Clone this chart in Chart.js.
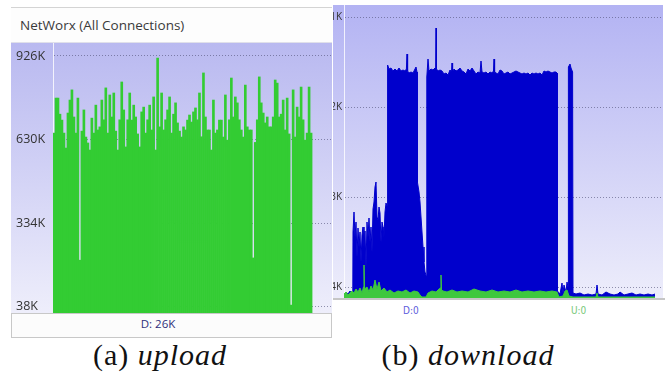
<!DOCTYPE html>
<html>
<head>
<meta charset="utf-8">
<script src="https://cdn.jsdelivr.net/npm/chart.js@4"></script>
<style>
  body { margin: 0; width: 668px; height: 376px; background: #fff; position: relative; overflow: hidden; font-family: "Open Sans", sans-serif; }
  .abs { position: absolute; box-sizing: border-box; }
  #titleA { left: 11px; top: 7px; width: 321px; height: 36px; background: #fdfdfd; border-top: 1px solid #d4d4d4; border-bottom: 1px solid #e0e0ea; font-size: 13.5px; color: #3a3a3a; line-height: 34px; padding-left: 9px; }
  #bgA { left: 11px; top: 43px; width: 321px; height: 270px; background: linear-gradient(#b9b9f0, #d0d0f5 45%, #eeeefb); }
  #statusA { left: 11px; top: 313px; width: 321px; height: 25px; background: #fcfcfc; border: 1px solid #c8c8c8; }
  #statusText { left: 11px; top: 316px; width: 294px; text-align: center; font-size: 11.5px; color: #2e2e7a; }
  #bgB { left: 333px; top: 5px; width: 330px; height: 293px; background: linear-gradient(#b3b3f3, #cdcdf6 45%, #ededfb); }
  #lineB { left: 333px; top: 298px; width: 332px; height: 2px; background: #c6c6c6; }
  .leg { top: 305px; font-family: "DejaVu Sans Condensed", "DejaVu Sans", sans-serif; font-size: 10px; }
  .cap { top: 338px; font-family: "Liberation Serif", serif; font-size: 30px; letter-spacing: 1px; color: #111; white-space: nowrap; text-align: center; }
  .cap i { font-style: italic; }
  canvas { position: absolute; }
</style>
</head>
<body>
<div class="abs" id="titleA">NetWorx (All Connections)</div>
<div class="abs" id="bgA"></div>
<canvas id="chartA" width="321" height="270" style="left:11px;top:43px"></canvas>
<div class="abs" id="statusA"></div>
<div class="abs" id="statusText">D: 26K</div>

<div class="abs" id="bgB"></div>
<canvas id="chartB" width="330" height="293" style="left:333px;top:5px"></canvas>
<div class="abs" id="lineB"></div>
<div class="abs leg" style="left:403px;color:#5b5bdc">D:0</div>
<div class="abs leg" style="left:571px;color:#77c877">U:0</div>

<div class="abs cap" style="left:60px;width:200px">(a) <i>upload</i></div>
<div class="abs cap" style="left:368px;width:200px">(b) <i>download</i></div>

<script>
// (a) upload panel, values in K
const aTickValues = [926, 630, 334, 38];
const aTickLabels = ['926K', '630K', '334K', '38K'];
const aUpload = [
  653, 777, 777, 720, 699, 653, 600, 724, 770, 806, 710, 653, 777, 203, 660, 735, 639, 618, 593, 706,
  653, 752, 664, 675, 770, 700, 813, 653, 788, 710, 795, 660, 593, 700, 834, 735, 604, 700, 795, 699,
  752, 710, 650, 604, 728, 745, 653, 700, 752, 664, 781, 593, 919, 675, 795, 664, 700, 735, 781, 653,
  720, 760, 689, 660, 639, 675, 664, 699, 717, 692, 728, 742, 700, 795, 640, 866, 710, 664, 664, 593,
  770, 653, 664, 699, 699, 639, 788, 628, 700, 848, 710, 781, 760, 700, 664, 639, 823, 675, 664, 664,
  211, 620, 700, 852, 760, 724, 689, 710, 675, 675, 710, 841, 830, 710, 720, 770, 664, 777, 650, 44,
  806, 639, 745, 710, 816, 700, 628, 653, 816, 653
];
const aSlots = 140;

// (b) download panel: [time sample, value in K]
const bTickValues = [31, 22, 13, 4];
const bTickLabels = ['31K', '22K', '13K', '4K'];
const bDownload = [
  [0,3.2],[2,3.5],[4,3.3],[6,3.6],[8,3.3],[8.8,3.4],
  [9,9.5],[10,11.5],[11,9.0],[12,10.5],[13,7.0],[14,9.9],[15,8.0],[16,9.5],[17,6.5],[18,9.2],[19,10.0],[20,8.0],
  [21,9.6],[22,6.0],[23,10.5],[24,9.0],[25,10.9],[26,8.5],[27,10.0],[28,7.5],[29,11.8],[30,12.5],[31,14.0],
  [32,14.5],[33,11.0],[34,10.7],[35,12.0],[36,11.4],[37,8.5],[38,10.5],[39,10.0],[40,9.0],[41,11.5],[42,12.4],[43.4,12.0],
  [43.6,26.2],[45,25.8],[47,25.9],[49,25.6],[51,25.8],[53,25.6],[55,25.9],[57,25.6],[59,25.7],[61,25.6],
  [62.4,25.8],[63,27.3],[63.6,25.6],[65,25.4],[67,25.5],[69,25.4],[71,25.8],[72,26.0],[73,25.5],
  [73.4,14.5],[75,13.5],[76,12.5],[77,11.0],[78,9.5],[79,8.0],[80,6.5],[81,5.5],[82.6,5.0],
  [82.8,25.0],[84,26.8],[85,25.6],[87,25.8],[89,25.7],[91,25.9],[91.6,25.6],[92,29.9],[92.5,25.8],[94,25.6],
  [96,25.7],[98,25.6],[100,25.3],[102,25.4],[104,25.2],[106,25.7],[107.5,25.5],[108,26.4],[108.6,25.5],[110,25.8],
  [112,25.6],[114,25.7],[116,25.9],[118,25.6],[120,25.5],[122,25.3],[124,25.8],[126,25.6],[128,25.9],[130,25.6],
  [132,25.3],[134,25.5],[136,25.4],[137,26.6],[138,25.5],[140,25.4],[142,25.5],[144,25.3],[146,25.5],[148,25.4],
  [149.5,25.6],[150,26.8],[150.6,25.5],[152,25.4],[154,25.3],[156,25.7],[158,25.6],[160,25.3],[162,25.4],[164,25.5],
  [166,25.3],[168,25.4],[170,25.5],[172,25.6],[174,25.5],[176,25.4],[178,25.3],[180,25.4],[182,25.3],[184,25.4],
  [186,25.2],[188,25.4],[190,25.3],[192,25.4],[194,25.3],[196,25.4],[198,25.2],[200,25.6],[202,25.5],[204,25.6],
  [206,25.5],[208,25.4],[210,25.5],[212,25.5],[213,25.4],
  [213.4,3.6],[216,3.3],[218,4.4],[219,3.4],[220,4.2],[222,3.5],[223,4.5],[224,4.0],
  [224.4,26.0],[226,26.3],[227,25.9],[228.6,25.5],
  [229,3.4],[232,3.3],[236,3.4],[240,3.2],[244,3.3],[248,3.2],[252,3.3],[253,4.2],[254,3.3],[258,3.2],
  [262,3.5],[266,3.3],[270,3.2],[274,3.3],[276,3.5],[280,3.2],[284,3.3],[288,3.4],[292,3.2],[296,3.3],
  [300,3.2],[304,3.3],[308,3.2],[311,3.3]
];
const bUpload = [
  [0,3.3],[2,3.5],[4,3.2],[6,3.4],[8,3.6],[10,3.4],[12,3.8],[14,3.5],[16,3.9],[18,3.4],[19.5,4.0],[20,6.2],
  [20.5,3.8],[23,4.0],[25,3.5],[27,4.1],[29,3.7],[31,4.7],[33,3.8],[35,4.5],[37,3.6],[40,3.9],[43,3.5],[46,3.7],
  [50,3.4],[54,3.6],[58,3.5],[62,3.7],[66,3.4],[70,3.6],[74,3.5],[76,3.2],[78,3.0],[82,3.0],[84,3.4],[88,3.6],
  [92,3.5],[95,3.8],[96.5,3.9],[97,5.2],[97.5,3.7],[99,3.6],[103,3.5],[108,3.7],[113,3.5],[118,3.6],[124,3.5],
  [130,3.8],[136,3.6],[142,3.5],[148,3.7],[154,3.5],[160,3.6],[166,3.5],[172,3.7],[178,3.5],[184,3.6],[190,3.5],
  [196,3.6],[202,3.5],[208,3.6],[213,3.5],[215,3.0],[219,3.1],[221,3.6],[223,3.7],[225,3.1],[229,3.0],[252,3.0],
  [253,3.4],[254,3.0],[311,3.0]
];

const gridColor = 'rgba(80,80,120,0.6)';

new Chart(document.getElementById('chartA'), {
  type: 'bar',
  data: {
    labels: Array.from({ length: aSlots }, (_, i) => i),
    datasets: [{
      data: aUpload,
      backgroundColor: '#33cc33',
      borderWidth: 0,
      barPercentage: 1,
      categoryPercentage: 1
    }]
  },
  options: {
    responsive: false,
    animation: false,
    devicePixelRatio: 1,
    layout: { padding: { left: 5 } },
    plugins: { legend: { display: false }, tooltip: { enabled: false } },
    scales: {
      x: { display: false },
      y: {
        min: 16,
        max: 972,
        afterBuildTicks: s => { s.ticks = aTickValues.map(v => ({ value: v })); },
        afterFit: s => { s.width = 37; s.paddingTop = 0; s.paddingBottom = 0; },
        ticks: {
          crossAlign: 'far',
          padding: 0,
          color: '#333',
          font: { family: 'Open Sans', size: 12.5 },
          callback: (v, i) => aTickLabels[i]
        },
        grid: { color: gridColor, drawTicks: false },
        border: { color: 'rgba(255,255,255,0.8)', dash: [1, 2] }
      }
    }
  }
});

new Chart(document.getElementById('chartB'), {
  type: 'line',
  data: {
    datasets: [
      {
        data: bUpload.map(p => ({ x: p[0], y: p[1] })),
        borderColor: '#3ec83e',
        backgroundColor: '#3ec83e',
        borderWidth: 1,
        pointRadius: 0,
        fill: 'start'
      },
      {
        data: bDownload.map(p => ({ x: p[0], y: p[1] })),
        borderColor: '#0000cc',
        backgroundColor: '#0000cc',
        borderWidth: 1,
        pointRadius: 0,
        fill: 'start'
      }
    ]
  },
  options: {
    responsive: false,
    animation: false,
    devicePixelRatio: 1,
    plugins: { legend: { display: false }, tooltip: { enabled: false } },
    scales: {
      x: { type: 'linear', min: 0, max: 319, display: false },
      y: {
        min: 2.9,
        max: 32.2,
        afterBuildTicks: s => { s.ticks = bTickValues.map(v => ({ value: v })); },
        afterFit: s => { s.width = 11; s.paddingTop = 0; s.paddingBottom = 0; },
        ticks: {
          padding: 2,
          color: '#333',
          font: { family: 'Open Sans', size: 10 },
          callback: (v, i) => bTickLabels[i]
        },
        grid: { color: gridColor, drawTicks: false },
        border: { color: 'rgba(255,255,255,0.8)', dash: [1, 2] }
      }
    }
  }
});
</script>
</body>
</html>
